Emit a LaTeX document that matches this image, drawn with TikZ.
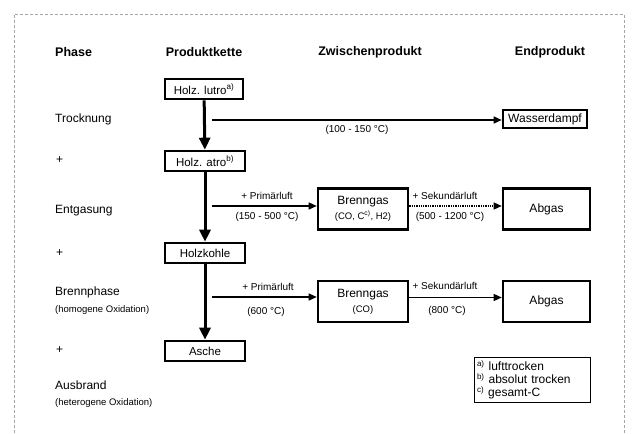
\documentclass[tikz,border=0pt]{standalone}
\usepackage{fontspec}
\setmainfont{Liberation Sans}
\usepackage{tikz}
\usetikzlibrary{arrows.meta,positioning}
\tikzset{
  kopf/.style={font=\fontsize{12.5}{14}\selectfont\bfseries},
  phase/.style={anchor=west,inner sep=0pt,font=\fontsize{12}{14}\selectfont},
  unter/.style={anchor=west,inner sep=0pt,font=\fontsize{9.5}{11}\selectfont},
  kette/.style={draw,line width=2.6pt,minimum width=80pt,minimum height=20pt,inner sep=0pt,font=\fontsize{11.5}{13}\selectfont},
  gasbox/.style={draw,line width=2.6pt,minimum width=90pt,minimum height=41pt,inner sep=0pt,align=center,font=\fontsize{12}{14}\selectfont},
  pfeiltext/.style={inner sep=0pt,font=\fontsize{10}{12}\selectfont},
  vpfeil/.style={line width=3pt,-{Triangle[length=12pt,width=11pt]}},
  hpfeil/.style={line width=1.3pt,-{Triangle[length=8pt,width=7pt]}}
}
\begin{document}
\begin{tikzpicture}[x=1pt,y=-1pt]
\useasboundingbox (0,0) rectangle (636,433);
\draw[black!35,densely dashed,line width=0.6pt] (14,433) -- (14,14) -- (624,14) -- (624,433);

\node[kopf,anchor=west,inner sep=0pt] (hphase) at (55,52) {Phase};
\node[kopf] (hkette) at (204,52) {Produktkette};
\node[kopf] (hzwischen) at (370,52) {Zwischenprodukt};
\node[kopf] (hend) at (550,52) {Endprodukt};

\node[phase] (ptrock) at (55,119) {Trocknung};
\node[phase] (plus1) at (56,160) {+};
\node[phase] (pentgas) at (55,211) {Entgasung};
\node[phase] (plus2) at (56,253) {+};
\node[phase] (pbrenn) at (55,292) {Brennphase};
\node[unter] (pbrennu) at (55,310) {(homogene Oxidation)};
\node[phase] (plus3) at (56,350) {+};
\node[phase] (pausbr) at (55,385) {Ausbrand};
\node[unter] (pausbru) at (55,403) {(heterogene Oxidation)};

\node[kette,minimum width=78pt] (lutro) at (204,89) {Holz. lutro\textsuperscript{a)}};
\node[kette] (atro) at (205,161) {Holz. atro\textsuperscript{b)}};
\node[kette] (kohle) at (205,253) {Holzkohle};
\node[kette] (asche) at (205,351) {Asche};

\node[kette,minimum width=84pt,minimum height=18pt,font=\fontsize{12}{14}\selectfont] (dampf) at (545,119) {Wasserdampf};
\node[gasbox] (gas1) at (363,209) {Brenngas\\[1pt]{\fontsize{9.5}{11}\selectfont(CO, C\textsuperscript{c)}, H2)}};
\node[gasbox,minimum width=87pt] (abgas1) at (546.5,209) {Abgas};
\node[gasbox] (gas2) at (363,301.5) {Brenngas\\[1pt]{\fontsize{9.5}{11}\selectfont(CO)}};
\node[gasbox,minimum width=87pt] (abgas2) at (546.5,301.5) {Abgas};

\draw[vpfeil] (lutro) -- (atro);
\draw[vpfeil] (atro) -- (kohle);
\draw[vpfeil] (kohle) -- (asche);

\coordinate (ttrock) at (212,120);
\coordinate (tentgas) at (212,206);
\coordinate (tbrenn) at (212,297);
\draw[hpfeil] (ttrock) -- (ttrock -| dampf.west);
\draw[hpfeil] (tentgas) -- (tentgas -| gas1.west);
\draw[hpfeil,densely dotted] ([yshift=3pt]gas1.east) -- ([yshift=3pt]abgas1.west);
\draw[hpfeil] (tbrenn) -- (tbrenn -| gas2.west);
\draw[hpfeil] ([yshift=4pt]gas2.east) -- ([yshift=4pt]abgas2.west);

\node[pfeiltext] (ltrock) at (357,130) {(100 - 150 °C)};
\node[pfeiltext] (lprim1) at (267,196) {+ Primärluft};
\node[pfeiltext] (ltemp1) at (267,217) {(150 - 500 °C)};
\node[pfeiltext] (lsek1) at (445,196) {+ Sekundärluft};
\node[pfeiltext] (ltemp2) at (450,217) {(500 - 1200 °C)};
\node[pfeiltext] (lprim2) at (268,287) {+ Primärluft};
\node[pfeiltext] (ltemp3) at (266,312) {(600 °C)};
\node[pfeiltext] (lsek2) at (445,286) {+ Sekundärluft};
\node[pfeiltext] (ltemp4) at (447,311) {(800 °C)};

\node[draw,line width=0.7pt,minimum width=116pt,minimum height=44pt,text width=110pt,inner sep=3pt,align=left,
  font=\fontsize{12}{13}\selectfont] (fussnote) at (532,380)
  {\textsuperscript{a)}\ lufttrocken\\ \textsuperscript{b)}\ absolut trocken\\ \textsuperscript{c)}\ gesamt-C};
\end{tikzpicture}
\end{document}
